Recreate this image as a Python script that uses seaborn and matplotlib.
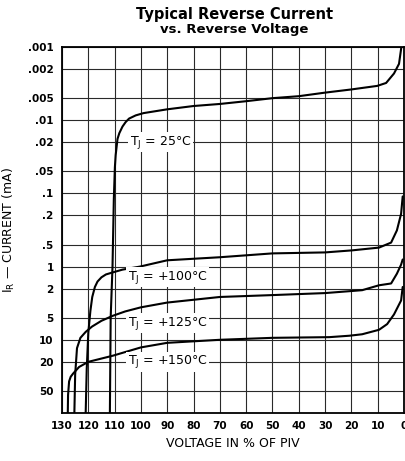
import numpy as np
import pandas as pd
import matplotlib
matplotlib.use("Agg")
import matplotlib.pyplot as plt
import seaborn as sns
from matplotlib.ticker import FixedLocator, NullLocator, FixedFormatter

# voltage in % of PIV, reverse current in mA
t25_v = [1.0, 1.9, 3.8, 6.8, 10.2, 20, 30, 40, 50, 60, 70, 80, 90, 99, 102,
         104.5, 105.8, 107.0, 108.2, 108.9, 109.6, 109.9, 110.3, 110.8, 111.5,
         111.8]
t25_i = [.001, .0017, .0023, .0031, .0034, .0038, .0042, .0047, .005, .0055,
         .006, .0064, .0071, .0080, .0086, .0095, .0106, .0122, .015, .018,
         .03, .044, .12, 1, 5, 100]

t100_v = [0.5, 1.1, 2.7, 4.9, 9.5, 19.7, 30, 50, 70, 90, 100.4, 107, 110.7,
          113.3, 115, 116.5, 117.5, 118.5, 119.2, 120, 120.6, 121]
t100_i = [.11, .19, .32, .47, .55, .6, .64, .66, .745, .82, 1.0, 1.1, 1.2,
          1.28, 1.4, 1.6, 1.9, 2.6, 4, 8, 25, 100]

t125_v = [0.5, 1.1, 2.7, 4.9, 9.5, 15.9, 30, 50, 70, 90, 100, 106, 110.7,
          115, 118.6, 121, 123, 124.3, 125, 125.3]
t125_i = [.8, .94, 1.25, 1.7, 1.8, 2.1, 2.3, 2.45, 2.6, 3.1, 3.6, 4.1, 4.7,
          5.5, 6.6, 7.8, 9.4, 13, 30, 100]

t150_v = [0.5, 1.1, 3.8, 6.4, 9.5, 15.9, 20.8, 28.4, 50, 70, 90, 100, 110.7,
          120, 123.5, 125.8, 126.7, 127.3, 127.7, 127.8]
t150_i = [1.9, 2.9, 4.5, 6.1, 7.3, 8.4, 8.8, 9.2, 9.4, 10, 11, 12.7, 16.5,
          20, 23.5, 29, 32, 37, 57, 100]

curves = [(t25_v, t25_i), (t100_v, t100_i), (t125_v, t125_i), (t150_v, t150_i)]

labels = [r"$\mathregular{T_J}$ = 25°C", r"$\mathregular{T_J}$ = +100°C",
          r"$\mathregular{T_J}$ = +125°C", r"$\mathregular{T_J}$ = +150°C"]
label_x = [104.2, 105, 105, 105]
label_y = [.02, 1.4, 5.9, 20]

y_ticks = [.001, .002, .005, .01, .02, .05, .1, .2, .5, 1, 2, 5, 10, 20, 50]
y_tick_labels = [".001", ".002", ".005", ".01", ".02", ".05", ".1", ".2", ".5",
                 "1", "2", "5", "10", "20", "50"]
x_ticks = list(range(0, 131, 10))

sns.set_style("white")
plt.rcParams["font.family"] = ["DejaVu Sans"]
plt.rcParams["text.color"] = "black"
plt.rcParams["axes.labelcolor"] = "black"
plt.rcParams["xtick.color"] = "black"
plt.rcParams["ytick.color"] = "black"

fig = plt.figure(figsize=(4.06, 4.61), dpi=100)
ax = fig.add_axes([62 / 406, 1 - 413 / 461, 342 / 406, 366 / 461])

for v, i in curves:
    df = pd.DataFrame({"v": v, "i": i})
    sns.lineplot(data=df, x="v", y="i", color="black", lw=1.5, sort=False,
                 estimator=None, ax=ax)

ax.set_yscale("log")
ax.set_ylim(100, 0.001)
ax.set_xlim(130, 0)

ax.yaxis.set_major_locator(FixedLocator(y_ticks))
ax.yaxis.set_major_formatter(FixedFormatter(y_tick_labels))
ax.yaxis.set_minor_locator(NullLocator())
ax.xaxis.set_major_locator(FixedLocator(x_ticks))
ax.xaxis.set_minor_locator(NullLocator())

ax.grid(True, color="#2a2a2a", lw=0.8)
ax.tick_params(length=0, labelsize=7.5, pad=6)
for lab in ax.get_xticklabels() + ax.get_yticklabels():
    lab.set_fontweight("bold")
for s in ax.spines.values():
    s.set_visible(True)
    s.set_color("black")
    s.set_linewidth(1.3)

for t, x, y in zip(labels, label_x, label_y):
    ax.text(x, y, t, ha="left", va="center", fontsize=9,
            bbox=dict(facecolor="white", edgecolor="none", pad=1))

ax.set_xlabel("VOLTAGE IN % OF PIV", fontsize=9, labelpad=4)
ax.set_ylabel(r"$\mathregular{I_R}$ — CURRENT (mA)", fontsize=9, labelpad=8)

fig.text(0.577, 1 - 15 / 461, "Typical Reverse Current", ha="center",
         va="center", fontsize=10.5, fontweight="bold")
fig.text(0.577, 1 - 29.5 / 461, "vs. Reverse Voltage", ha="center",
         va="center", fontsize=9.5, fontweight="bold")

fig.savefig("out.png", dpi=100)
